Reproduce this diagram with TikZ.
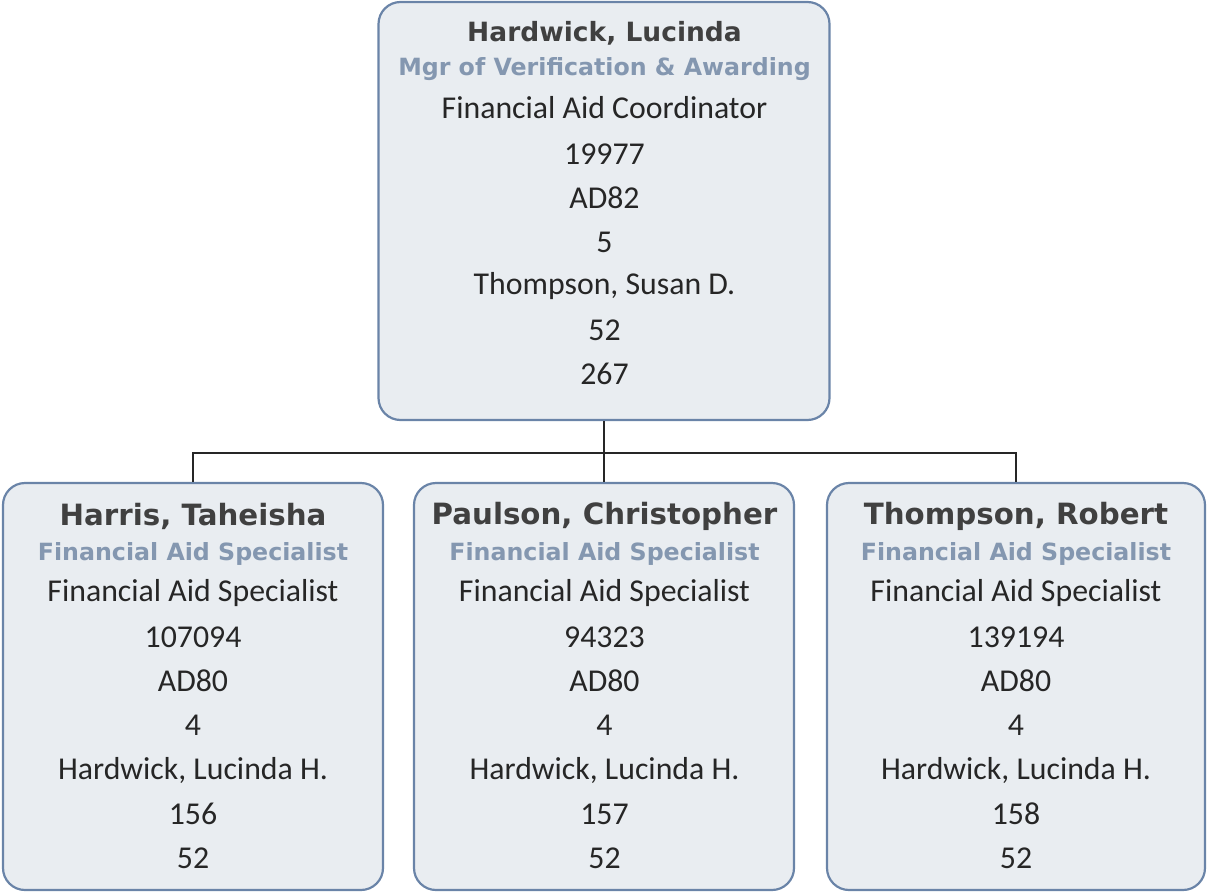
\documentclass[tikz,border=0pt]{standalone}
\usepackage{fontspec}
\setmainfont{Carlito}
\newfontfamily\boldfont{DejaVu Sans}
\definecolor{boxfill}{HTML}{E9EDF1}
\definecolor{boxline}{HTML}{6A84A8}
\definecolor{namecol}{HTML}{404040}
\definecolor{titlecol}{HTML}{8497B0}
\definecolor{textcol}{HTML}{262626}
\begin{document}
\begin{tikzpicture}[x=1pt,y=-1pt,
  card/.style={draw=boxline,fill=boxfill,line width=2.2pt,rounded corners=22pt},
  nm/.style={font=\boldfont\bfseries\fontsize{26.5}{30}\selectfont,text=namecol,inner sep=0pt},
  nmb/.style={font=\boldfont\bfseries\fontsize{29.3}{33}\selectfont,text=namecol,inner sep=0pt},
  tt/.style={font=\boldfont\bfseries\fontsize{23.7}{27}\selectfont,text=titlecol,inner sep=0pt},
  ln/.style={font=\fontsize{31.8}{36}\selectfont,text=textcol,inner sep=0pt},
  wire/.style={draw=black!85,line width=2pt}]
\useasboundingbox (0,0) rectangle (1207,894);
% boxes
\node[card,minimum width=451pt,minimum height=418pt,inner sep=0pt] (top) at (604,211) {};
\node[card,minimum width=380pt,minimum height=407pt,inner sep=0pt] (b1) at (193,686.5) {};
\node[card,minimum width=380pt,minimum height=407pt,inner sep=0pt] (b2) at (604,686.5) {};
\node[card,minimum width=378pt,minimum height=407pt,inner sep=0pt] (b3) at (1016,686.5) {};
% connectors
\coordinate (bus) at (604,453);
\draw[wire] (top.south) -- (b2.north);
\draw[wire] (b1.north) |- (bus) -| (b3.north);
% top texts
\node[nm] (t0) at (604.5,33) {Hardwick, Lucinda};
\node[tt] (t1) at (604.5,69) {Mgr of Verification \& Awarding};
\node[ln] (t2) at (604.5,108) {Financial Aid Coordinator};
\node[ln] (t3) at (604.5,154) {19977};
\node[ln] (t4) at (604.5,198) {AD82};
\node[ln] (t5) at (604.5,242) {5};
\node[ln] (t6) at (604.5,286) {Thompson, Susan D.};
\node[ln] (t7) at (604.5,330) {52};
\node[ln] (t8) at (604.5,374) {267};
% b1
\node[nmb] (a0) at (193,516) {Harris, Taheisha};
\node[tt] (a1) at (193,554) {Financial Aid Specialist};
\node[ln] (a2) at (193,593) {Financial Aid Specialist};
\node[ln] (a3) at (193,637) {107094};
\node[ln] (a4) at (193,681) {AD80};
\node[ln] (a5) at (193,725) {4};
\node[ln] (a6) at (193,770) {Hardwick, Lucinda H.};
\node[ln] (a7) at (193,814) {156};
\node[ln] (a8) at (193,858) {52};
% b2
\node[nmb] (c0) at (604.5,516) {Paulson, Christopher};
\node[tt] (c1) at (604.5,554) {Financial Aid Specialist};
\node[ln] (c2) at (604.5,593) {Financial Aid Specialist};
\node[ln] (c3) at (604.5,637) {94323};
\node[ln] (c4) at (604.5,681) {AD80};
\node[ln] (c5) at (604.5,725) {4};
\node[ln] (c6) at (604.5,770) {Hardwick, Lucinda H.};
\node[ln] (c7) at (604.5,814) {157};
\node[ln] (c8) at (604.5,858) {52};
% b3
\node[nmb] (d0) at (1016,516) {Thompson, Robert};
\node[tt] (d1) at (1016,554) {Financial Aid Specialist};
\node[ln] (d2) at (1016,593) {Financial Aid Specialist};
\node[ln] (d3) at (1016,637) {139194};
\node[ln] (d4) at (1016,681) {AD80};
\node[ln] (d5) at (1016,725) {4};
\node[ln] (d6) at (1016,770) {Hardwick, Lucinda H.};
\node[ln] (d7) at (1016,814) {158};
\node[ln] (d8) at (1016,858) {52};
\end{tikzpicture}
\end{document}
